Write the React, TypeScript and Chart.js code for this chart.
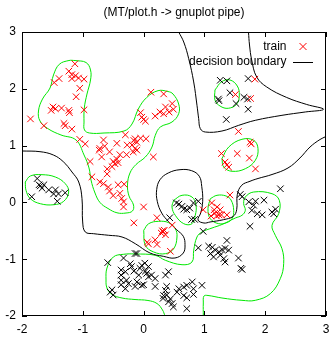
import React, { useEffect, useRef } from 'react';
import { Chart, registerables } from 'chart.js';

Chart.register(...registerables);

type Pt = [number, number];

const chartTitle = '(MT/plot.h -> gnuplot pipe)';
const legendLabels = ['train', 'decision boundary'];
const xTicks = [-2, -1, 0, 1, 2, 3];
const yTicks = [-2, -1, 0, 1, 2, 3];

// training points, class "red"
const trainRed: Pt[] = [
  [-1.13, 2.44], [-1.23, 2.31], [-1.18, 2.25], [-1.12, 2.23], [-1.07, 2.19], [-0.98, 2.17], [-1.18, 2.18],
  [-1.39, 2.18], [-1.47, 2.11], [-1.05, 2.01], [-1.11, 1.86], [-0.98, 1.63], [-1.49, 1.68], [-1.52, 1.62],
  [-1.45, 1.65], [-1.35, 1.66], [-1.23, 1.62], [-1.22, 1.58], [-1.86, 1.47], [-1.64, 1.35], [-1.31, 1.39],
  [-1.29, 1.35], [-1.18, 1.29],
  [-1.05, 1.11], [-0.96, 1.03], [-0.66, 1.1], [-0.64, 0.99], [-0.72, 0.95], [-0.73, 0.92], [-0.56, 0.89],
  [-0.44, 1.04], [-0.3, 1.19], [-0.05, 1.13], [-0.14, 0.95], [-0.11, 0.92], [-0.17, 0.89], [-0.28, 0.84],
  [-0.39, 0.84], [-0.44, 0.76], [-0.5, 0.72], [-0.42, 0.7], [-0.47, 0.68], [-0.52, 0.63], [0.16, 0.8],
  [-0.69, 0.8], [-0.88, 0.72], [-0.6, 0.59], [0.04, 1.12], [-0.14, 1.12], [-0.11, 1.06], [-0.16, 1.09],
  [-0.27, 1.01], [-0.19, 1.01],
  [0.12, 1.94], [0.33, 1.91], [0.47, 1.74], [0.36, 1.68], [0.49, 1.64], [0.27, 1.59], [0.19, 1.52],
  [0.42, 1.59], [0.33, 1.56], [-0.05, 1.58], [0.0, 1.46], [0.03, 1.43], [-0.03, 1.5],
  [-0.85, 0.45], [-0.6, 0.5], [-0.72, 0.36], [-0.66, 0.33], [-0.58, 0.27], [-0.42, 0.31], [-0.39, 0.16],
  [-0.36, 0.07], [-0.33, 0.01], [-0.32, 0.32], [-0.56, 0.2], [-0.5, 0.12], [-0.33, -0.08], [0.0, -0.08],
  [-0.16, -0.36],
  [0.22, -0.27], [0.47, -0.4], [0.32, -0.52], [0.36, -0.57], [0.29, -0.54], [0.34, -0.49], [0.31, -0.5],
  [0.06, -0.7], [0.08, -0.73], [0.22, -0.74], [0.44, -0.86], [0.19, -0.66],
  [0.98, -0.13], [1.12, -0.01], [1.21, -0.08], [1.17, -0.19], [1.24, -0.22], [1.11, -0.24], [1.28, -0.22],
  [1.16, -0.13], [1.26, -0.13], [1.37, -0.22], [1.2, -0.24], [1.42, 0.13],
  [1.83, 2.17], [1.51, 1.9], [1.76, 1.83], [1.56, 1.25], [1.77, 1.03], [1.75, 1.06], [1.54, 0.86],
  [1.74, 0.78], [1.34, 0.71], [1.4, 0.62], [1.37, 0.66], [1.84, 0.59], [1.28, 0.86],
];

// training points, class "black"
const trainBlack: Pt[] = [
  [-1.75, 0.42], [-1.72, 0.31], [-1.67, 0.25], [-1.7, 0.29], [-1.64, 0.31], [-1.56, 0.22], [-1.48, 0.15],
  [-1.45, 0.22], [-1.4, 0.15], [-1.29, 0.17], [-1.84, 0.1], [-1.42, 0.02],
  [1.26, 2.15], [1.37, 2.14], [1.72, 2.18], [1.42, 1.93], [1.23, 1.82], [1.24, 1.79], [1.65, 1.85],
  [1.71, 1.82], [1.72, 1.64], [1.36, 1.46], [1.52, 1.74],
  [0.54, -0.01], [0.63, -0.07], [0.58, -0.03], [0.71, -0.13], [0.76, -0.1], [0.82, -0.01], [0.9, 0.02],
  [0.79, -0.3], [0.84, -0.3], [0.98, -0.51], [0.43, -0.27], [0.66, -0.12],
  [2.25, 0.24], [1.62, 0.1], [1.73, 0.01], [1.84, 0.02], [1.81, -0.05], [1.98, 0.04], [1.78, -0.14],
  [1.87, -0.2], [1.95, -0.22], [2.11, -0.17], [2.17, -0.12], [2.14, -0.2], [1.75, -0.42], [1.59, 0.14],
  [0.9, -0.8], [1.07, -0.77], [1.13, -0.79], [1.18, -0.84], [1.1, -0.9], [1.24, -0.87], [1.29, -0.83],
  [1.26, -0.93], [1.15, -0.96], [1.37, -0.67], [1.34, -0.81], [1.4, -0.84], [1.32, -0.99], [1.34, -1.05],
  [1.56, -0.98], [1.62, -1.18], [1.6, -1.16],
  [-0.59, -1.06], [-0.37, -1.19], [-0.37, -1.28], [-0.37, -1.37], [-0.37, -1.45], [-0.55, -1.58],
  [-0.52, -1.54], [-0.33, -0.98], [-0.11, -0.9], [-0.2, -1.13], [-0.06, -1.16], [0.02, -1.07], [0.08, -1.13],
  [0.05, -1.25], [0.13, -1.28], [0.0, -1.45], [0.19, -1.48], [0.38, -1.48], [0.38, -1.63], [0.32, -1.69],
  [0.41, -1.75], [-0.5, -1.63], [-0.28, -1.37], [-0.14, -1.48], [-0.22, -1.08], [-0.03, -1.11],
  [-0.16, -1.21], [0.03, -1.21], [-0.08, -1.28], [-0.3, -1.22], [0.08, -1.31], [-0.11, -1.4], [0.19, -1.34],
  [0.36, -1.28], [0.41, -1.22], [-0.25, -1.43], [-0.3, -1.52], [-0.03, -1.46], [0.36, -1.55], [0.58, -1.52],
  [0.55, -1.58], [0.66, -1.49], [0.71, -1.46], [0.8, -1.4], [0.82, -1.52], [0.33, -1.64], [0.44, -1.7],
  [0.47, -1.78], [0.49, -1.84], [0.66, -1.64], [0.71, -1.68], [0.82, -1.62], [0.71, -1.87], [0.96, -1.46],
  [-0.14, -0.9],
];

// decision boundary (two branches)
const boundaryLower: Pt[] = [
  [-2.0, 0.905], [-1.704, 0.893], [-1.485, 0.835], [-1.321, 0.717], [-1.178, 0.535], [-1.067, 0.359],
  [-1.013, 0.065], [-1.002, -0.345], [-0.959, -0.521], [-0.821, -0.551], [-0.574, -0.579], [-0.355, -0.609],
  [-0.137, -0.727], [0.105, -0.891], [0.324, -0.949], [0.516, -0.979], [0.653, -0.891], [0.681, -0.745],
  [0.653, -0.597], [0.544, -0.481], [0.406, -0.333], [0.298, -0.187], [0.225, 0.019], [0.215, 0.224],
  [0.27, 0.4], [0.406, 0.518], [0.599, 0.576], [0.791, 0.558], [0.916, 0.46], [0.956, 0.283],
  [0.972, 0.019], [0.939, -0.187], [0.895, -0.31], [0.993, -0.363], [1.092, -0.345], [1.311, -0.305],
  [1.475, -0.245], [1.531, -0.129], [1.541, 0.136], [1.613, 0.301], [1.75, 0.372], [1.882, 0.421],
  [2.112, 0.491], [2.375, 0.606], [2.572, 0.782], [2.737, 0.975], [2.901, 1.107], [3.0, 1.16],
];
const boundaryUpper: Pt[] = [
  [0.577, 3.0], [0.66, 2.824], [0.742, 2.53], [0.824, 2.12], [0.878, 1.71], [0.906, 1.474], [0.933, 1.298],
  [1.015, 1.239], [1.289, 1.257], [1.564, 1.357], [1.837, 1.445], [2.276, 1.533], [2.66, 1.592],
  [2.959, 1.639], [2.683, 1.724], [2.354, 1.847], [2.025, 2.032], [1.86, 2.208], [1.778, 2.507],
  [1.742, 2.771], [1.725, 3.0],
];

// probability level contours
const levelLobe: Pt[] = [
  [-1.128, 2.498], [-0.947, 2.463], [-0.873, 2.331], [-0.873, 2.155], [-0.931, 1.908], [-0.975, 1.662],
  [-0.98, 1.415], [-0.972, 1.275], [-0.89, 1.222], [-0.651, 1.222], [-0.322, 1.257], [-0.191, 1.38],
  [-0.087, 1.644], [0.051, 1.847], [0.237, 1.967], [0.401, 1.952], [0.484, 1.908], [0.577, 1.732],
  [0.577, 1.562], [0.467, 1.415], [0.275, 1.327], [0.192, 1.181], [0.138, 0.975], [0.028, 0.799],
  [-0.125, 0.667], [-0.224, 0.518], [-0.265, 0.306], [-0.24, 0.113], [-0.166, -0.046], [-0.183, -0.151],
  [-0.289, -0.187], [-0.438, -0.183], [-0.586, -0.107], [-0.717, -0.002], [-0.799, 0.165], [-0.865, 0.394],
  [-0.898, 0.606], [-0.98, 0.835], [-1.112, 1.099], [-1.359, 1.187], [-1.577, 1.301], [-1.704, 1.433],
  [-1.729, 1.609], [-1.663, 1.82], [-1.539, 2.014], [-1.482, 2.243], [-1.387, 2.431], [-1.227, 2.498],
];
const levelWest: Pt[] = [
  [-1.946, 0.359], [-1.863, 0.465], [-1.671, 0.488], [-1.452, 0.447], [-1.288, 0.329], [-1.232, 0.183],
  [-1.314, 0.019], [-1.479, -0.041], [-1.699, -0.023], [-1.863, 0.065], [-1.934, 0.213],
];
const levelSouth: Pt[] = [
  [0.352, -2.0], [0.311, -1.894], [0.22, -1.78], [0.072, -1.727], [-0.141, -1.71], [-0.355, -1.683],
  [-0.52, -1.621], [-0.602, -1.507], [-0.618, -1.366], [-0.602, -1.155], [-0.498, -0.961], [-0.334, -0.914],
  [-0.141, -0.908], [0.192, -0.931], [0.357, -1.019], [0.632, -1.097], [0.796, -1.049], [0.824, -0.843],
  [0.878, -0.609], [0.961, -0.521], [1.125, -0.451], [1.289, -0.389], [1.508, -0.275], [1.618, -0.227],
  [1.673, -0.139], [1.646, -0.023], [1.673, 0.095], [1.811, 0.183], [2.112, 0.153], [2.232, 0.037],
  [2.222, -0.199], [2.112, -0.403], [2.166, -0.579], [2.276, -0.815], [2.304, -1.079], [2.248, -1.343],
  [2.084, -1.607], [1.837, -1.724], [1.618, -1.724], [1.289, -1.683], [1.059, -1.639], [0.993, -1.648],
  [0.982, -1.771], [0.982, -2.0],
];
const levelCentreRed: Pt[] = [
  [0.002, -0.491], [0.084, -0.375], [0.248, -0.333], [0.413, -0.357], [0.521, -0.463], [0.549, -0.609],
  [0.495, -0.815], [0.357, -0.903], [0.166, -0.873], [0.028, -0.755],
];
const levelCentreBlack: Pt[] = [
  [0.495, 0.037], [0.632, 0.125], [0.796, 0.095], [0.862, -0.051], [0.85, -0.227], [0.796, -0.375],
  [0.66, -0.375], [0.521, -0.227], [0.467, -0.081],
];
const levelEastRed: Pt[] = [
  [1.097, 0.065], [1.207, 0.125], [1.355, 0.113], [1.438, 0.042], [1.482, -0.139], [1.454, -0.287],
  [1.372, -0.354], [1.235, -0.375], [1.097, -0.287], [1.059, -0.111],
];
const levelEastUpper: Pt[] = [
  [1.289, 0.77], [1.4, 0.975], [1.618, 1.111], [1.811, 1.093], [1.882, 0.945], [1.837, 0.741],
  [1.673, 0.593], [1.454, 0.548], [1.317, 0.623],
];
const levelNorthEast: Pt[] = [
  [1.174, 1.979], [1.285, 2.125], [1.421, 2.155], [1.541, 2.049], [1.574, 1.891], [1.532, 1.732],
  [1.393, 1.657], [1.257, 1.697], [1.174, 1.803],
];

const closedLevels: Pt[][] = [levelLobe, levelWest, levelCentreRed, levelCentreBlack, levelEastRed, levelEastUpper, levelNorthEast];
const openLevels: Pt[][] = [levelSouth];
const boundaries: Pt[][] = [boundaryLower, boundaryUpper];

const FONT = '"Liberation Sans", Arial, Helvetica, sans-serif';
const GREEN = '#00e800';

const toXY = (pts: Pt[]) => pts.map(([x, y]) => ({ x, y }));
const closeLoop = (pts: Pt[]) => [...pts, pts[0]];

const lineDs = (pts: Pt[], color: string) => ({
  data: toXY(pts),
  showLine: true,
  borderColor: color,
  borderWidth: 1,
  pointRadius: 0,
  pointHoverRadius: 0,
  tension: 0.4,
  fill: false,
});

const framePlugin = {
  id: 'gnuFrame',
  afterDraw(chart: any) {
    const { ctx, chartArea: a, scales } = chart;
    ctx.save();
    ctx.strokeStyle = '#000';
    ctx.lineWidth = 1;
    ctx.strokeRect(a.left + 0.5, a.top + 0.5, a.right - a.left - 1, a.bottom - a.top - 1);
    const tl = 5;
    ctx.beginPath();
    xTicks.forEach((v) => {
      const p = Math.round(scales.x.getPixelForValue(v)) + 0.5;
      ctx.moveTo(p, a.bottom);
      ctx.lineTo(p, a.bottom - tl);
      ctx.moveTo(p, a.top);
      ctx.lineTo(p, a.top + tl);
    });
    yTicks.forEach((v) => {
      const p = Math.round(scales.y.getPixelForValue(v)) + 0.5;
      ctx.moveTo(a.left, p);
      ctx.lineTo(a.left + tl, p);
      ctx.moveTo(a.right, p);
      ctx.lineTo(a.right - tl, p);
    });
    ctx.stroke();

    // title
    ctx.fillStyle = '#000';
    ctx.font = `12px ${FONT}`;
    ctx.textAlign = 'center';
    ctx.textBaseline = 'middle';
    ctx.fillText(chartTitle, (a.left + a.right) / 2, 13);

    // legend
    const tx = a.right - 39.5;
    const sx = a.right - 23;
    ctx.textAlign = 'right';
    ctx.fillText(legendLabels[0], tx, a.top + 14.5);
    ctx.fillText(legendLabels[1], tx, a.top + 29.5);
    ctx.strokeStyle = '#ff0000';
    ctx.beginPath();
    const cy = a.top + 14.5;
    ctx.moveTo(sx - 3.5, cy - 3.5);
    ctx.lineTo(sx + 3.5, cy + 3.5);
    ctx.moveTo(sx + 3.5, cy - 3.5);
    ctx.lineTo(sx - 3.5, cy + 3.5);
    ctx.stroke();
    ctx.strokeStyle = '#000';
    ctx.beginPath();
    ctx.moveTo(sx - 10, a.top + 30.5);
    ctx.lineTo(sx + 10, a.top + 30.5);
    ctx.stroke();
    ctx.restore();
  },
};

export default function App() {
  const ref = useRef<HTMLCanvasElement | null>(null);
  useEffect(() => {
    if (!ref.current) return;
    const datasets: any[] = [
      {
        label: 'train',
        data: toXY(trainRed),
        pointStyle: 'crossRot',
        pointRadius: 4.6,
        pointBorderColor: '#ff0000',
        borderColor: '#ff0000',
        pointBorderWidth: 1,
        showLine: false,
      },
      {
        label: 'train black',
        data: toXY(trainBlack),
        pointStyle: 'crossRot',
        pointRadius: 4.6,
        pointBorderColor: '#000000',
        borderColor: '#000000',
        pointBorderWidth: 1,
        showLine: false,
      },
      ...boundaries.map((b) => lineDs(b, '#000000')),
      ...closedLevels.map((l) => lineDs(closeLoop(l), GREEN)),
      ...openLevels.map((l) => lineDs(l, GREEN)),
    ];
    const chart = new Chart(ref.current, {
      type: 'scatter',
      data: { datasets },
      options: {
        responsive: false,
        animation: false,
        events: [],
        layout: { autoPadding: false, padding: { left: 0, right: 6, top: 32, bottom: 0 } },
        plugins: { legend: { display: false }, title: { display: false }, tooltip: { enabled: false } },
        scales: {
          x: {
            type: 'linear',
            min: -2,
            max: 3,
            afterFit: (s: any) => { s.height = 21; s.paddingLeft = 0; s.paddingRight = 0; },
            grid: { display: false, drawTicks: false },
            border: { display: false },
            ticks: { stepSize: 1, padding: 6, color: '#000', font: { family: FONT, size: 12 } },
          },
          y: {
            type: 'linear',
            min: -2,
            max: 3,
            afterFit: (s: any) => { s.width = 22; s.paddingTop = 0; s.paddingBottom = 0; },
            grid: { display: false, drawTicks: false },
            border: { display: false },
            ticks: { stepSize: 1, padding: 6, color: '#000', font: { family: FONT, size: 12 } },
          },
        },
      },
      plugins: [framePlugin],
    });
    return () => chart.destroy();
  }, []);
  return (
    <div style={{ position: 'fixed', left: 0, top: 0, width: 332, height: 337, background: '#fff' }}>
      <canvas ref={ref} width={332} height={337} style={{ display: 'block' }} />
    </div>
  );
}
